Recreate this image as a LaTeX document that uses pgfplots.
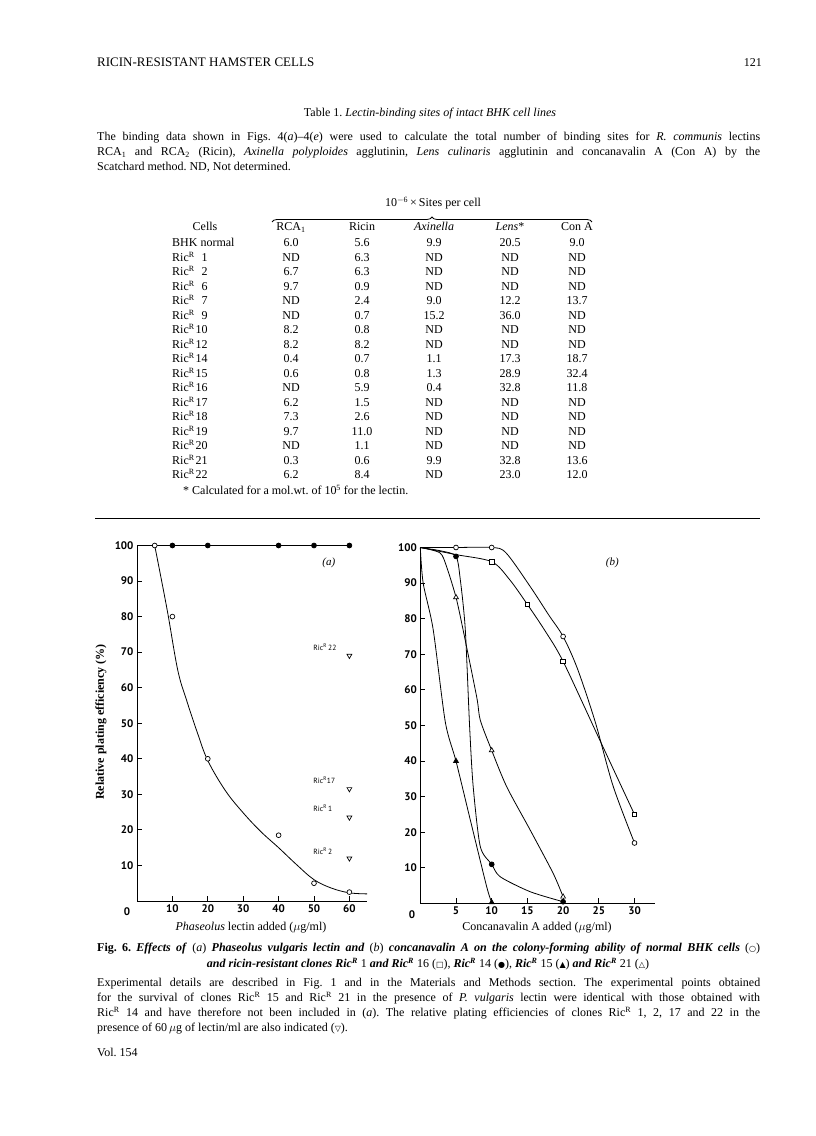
\documentclass[border=0pt]{standalone}
\usepackage{fontspec}
\setmainfont{Liberation Serif}
\newfontfamily\tickfont{PT Sans}
\newfontfamily\symfont{DejaVu Sans}
\usepackage{pgfplots}
\pgfplotsset{compat=1.18}
\usetikzlibrary{decorations.pathreplacing}
\frenchspacing
\newcommand\ric[1]{Ric\textsuperscript{R}\makebox[13pt][r]{#1}}
\newcommand\R{Ric\textsuperscript{R}}
\newcommand\sym[1]{{\symfont\fontsize{8}{8}\selectfont #1}}
\pgfplotsset{pan/.style={scale only axis, axis x line*=bottom, axis y line*=left,
  axis line style={-, line width=0.9pt}, ymin=0, ymax=100, ytick={10,20,...,100},
  tick align=inside, major tick length=5pt, tick style={black, line width=0.8pt},
  ticklabel style={font=\tickfont\bfseries\fontsize{11}{11}\selectfont},
  /pgf/number format/assume math mode=true, clip=false, height=355.5pt,
  every axis plot/.append style={black, line width=0.8pt}},
  oc/.style={only marks, mark=*, mark size=2.4pt, mark options={fill=white, draw=black, line width=0.7pt}},
  fc/.style={only marks, mark=*, mark size=2.4pt, mark options={fill=black}}}
\tikzset{ric/.style={font=\tickfont\fontsize{7.5}{8}\selectfont, anchor=west, inner sep=0pt}}
\begin{document}
\begin{tikzpicture}
\fill[white] (0pt,0pt) rectangle (816pt,1136pt);
\useasboundingbox (0pt,0pt) rectangle (816pt,1136pt);
% ---------- panel (a) ----------
\begin{axis}[pan, at={(137pt,235pt)}, anchor=south west, width=230.1pt,
  xmin=0, xmax=65, xtick={10,20,...,60}]
\addplot[no marks, line width=0.9pt] coordinates {(0,100)(60,100)};
\addplot[fc] coordinates {(10,100)(20,100)(40,100)(50,100)(60,100)};
\addplot[no marks, smooth, tension=0.6] coordinates {(5,100)(8.5,82)(11.5,65)(14,56.5)(17,47.5)(20,39.5)(25,31)(30,24.8)(35,19.5)(40,15)(45,10.3)(50,6)(55,3.6)(60,2.3)(65,2)};
\addplot[oc] coordinates {(5,100)(10,80)(20,40)(40,18.5)(50,5)(60,2.5)};
\addplot[only marks, mark=triangle, mark size=2.8pt, mark options={rotate=180, line width=0.7pt}] coordinates {(60,69)(60,31.5)(60,23.5)(60,12)};
\node[ric] at (axis cs:49.8,71.5) {\R\,22};
\node[ric] at (axis cs:49.8,34) {\R 17};
\node[ric] at (axis cs:49.8,26) {\R\,1};
\node[ric] at (axis cs:49.8,14) {\R\,2};
\node[font=\itshape\fontsize{11}{11}\selectfont] at (axis cs:54.2,95.2) {(a)};
\end{axis}
% ---------- panel (b) ----------
\begin{axis}[pan, at={(420.3pt,232.5pt)}, anchor=south west, width=234.2pt, height=356pt,
  xmin=0, xmax=32.8, xtick={5,10,...,30}]
% normal BHK
\addplot[no marks, smooth, tension=0.5] coordinates {(0,100)(5,100)(10,100)(12,98.5)(15.4,89)(18,81)(20,75)(22,66)(24.5,51)(27,33)(30,17)};
% RicR 1 and 16
\addplot[no marks, smooth, tension=0.5] coordinates {(0,100)(5,98)(10,96)(12.5,91)(15,84)(17.5,76.5)(20,68)(25,46.5)(30,25)};
% RicR 14
\addplot[no marks, smooth, tension=0.45] coordinates {(0,100)(3,99)(5,97.5)(5.6,91)(6.3,77)(6.9,50)(7.4,33)(8.4,16)(10,11)(11.2,7.5)(15.4,3.3)(20,0.5)};
% RicR 15
\addplot[no marks, smooth, tension=0.45] coordinates {(0,100)(0.4,90)(1.8,77)(3.5,51)(5,40)(7,23.5)(9.3,4.7)(10,0.3)};
% RicR 21
\addplot[no marks, smooth, tension=0.45] coordinates {(0,100)(2.75,98.5)(3.7,94.5)(5,86)(6,76.8)(7.9,58)(8.4,51.5)(10,43)(12.1,32.8)(15.4,20.6)(18.6,8.5)(20,1.9)};
\addplot[oc] coordinates {(5,100)(10,100)(20,75)(30,17)};
\addplot[only marks, mark=square*, mark size=2.3pt, mark options={fill=white, draw=black, line width=0.7pt}] coordinates {(10,96)(15,84)(20,68)(30,25)};
\addplot[fc] coordinates {(5,97.5)(10,11)(20,0.5)};
\addplot[only marks, mark=triangle*, mark size=2.8pt, mark options={fill=black}] coordinates {(5,40)(10,0.3)};
\addplot[only marks, mark=triangle*, mark size=2.8pt, mark options={fill=white, draw=black, line width=0.7pt}] coordinates {(5,86)(10,43)(20,1.9)};
\node[font=\itshape\fontsize{11}{11}\selectfont] at (axis cs:26.9,95.6) {(b)};
\end{axis}
\begin{scope}[x=1pt,y=1pt]
% ---------- header ----------
\node[anchor=base west,inner sep=0] at (97,1069) {\fontsize{13}{15}\selectfont RICIN-RESISTANT HAMSTER CELLS};
\node[anchor=base east,inner sep=0] at (762,1069) {\fontsize{12}{14}\selectfont 121};
\node[anchor=base,inner sep=0] at (430,1019) {\fontsize{12}{14}\selectfont Table 1. \textit{Lectin-binding sites of intact BHK cell lines}};
\begin{scope}[every node/.style={anchor=base west, inner sep=0, font=\fontsize{12}{14}\selectfont}]
\node at (97,995) {\makebox[663pt][s]{The binding data shown in Figs. 4(\textit{a})--4(\textit{e}) were used to calculate the total number of binding sites for \textit{R. communis} lectins}};
\node at (97,980) {\makebox[663pt][s]{RCA\textsubscript{1} and RCA\textsubscript{2} (Ricin), \textit{Axinella polyploides} agglutinin, \textit{Lens culinaris} agglutinin and concanavalin A (Con A) by the}};
\node at (97,965) {Scatchard method. ND, Not determined.};
\end{scope}
% ---------- table ----------
\node[anchor=base,inner sep=0] at (433,929) {\fontsize{12}{14}\selectfont 10\textsuperscript{$-$6}\,×\,Sites per cell};
\draw[line width=0.8pt, decorate, decoration={brace, amplitude=5pt}] (272,914) -- (592,914);
\begin{scope}[every node/.style={anchor=base, inner sep=0, font=\fontsize{12}{14}\selectfont}]
\node at (205,905) {Cells};
\node at (291,905) {RCA\textsubscript{1}};
\node at (362,905) {Ricin};
\node at (434,905) {\textit{Axinella}};
\node at (510,905) {\textit{Lens}*};
\node at (577,905) {Con A};
\foreach \lab/\va/\vb/\vc/\vd/\ve [count=\i from 0] in {
 {BHK normal}/6.0/5.6/9.9/20.5/9.0,
 {\ric{1}}/ND/6.3/ND/ND/ND,
 {\ric{2}}/6.7/6.3/ND/ND/ND,
 {\ric{6}}/9.7/0.9/ND/ND/ND,
 {\ric{7}}/ND/2.4/9.0/12.2/13.7,
 {\ric{9}}/ND/0.7/15.2/36.0/ND,
 {\ric{10}}/8.2/0.8/ND/ND/ND,
 {\ric{12}}/8.2/8.2/ND/ND/ND,
 {\ric{14}}/0.4/0.7/1.1/17.3/18.7,
 {\ric{15}}/0.6/0.8/1.3/28.9/32.4,
 {\ric{16}}/ND/5.9/0.4/32.8/11.8,
 {\ric{17}}/6.2/1.5/ND/ND/ND,
 {\ric{18}}/7.3/2.6/ND/ND/ND,
 {\ric{19}}/9.7/11.0/ND/ND/ND,
 {\ric{20}}/ND/1.1/ND/ND/ND,
 {\ric{21}}/0.3/0.6/9.9/32.8/13.6,
 {\ric{22}}/6.2/8.4/ND/23.0/12.0}
{
 \pgfmathsetmacro\yy{889-14.5*\i}
 \node[anchor=base west] at (172,\yy) {\lab};
 \node at (291,\yy) {\va};
 \node at (362,\yy) {\vb};
 \node at (434,\yy) {\vc};
 \node at (510,\yy) {\vd};
 \node at (577,\yy) {\ve};
}
\node[anchor=base west] at (183,641) {* Calculated for a mol.wt. of 10\textsuperscript{5} for the lectin.};
\end{scope}
\draw[line width=0.8pt] (95,618) -- (760,618);
% ---------- axis extras ----------
\node[font=\tickfont\bfseries\fontsize{11}{11}\selectfont] at (127,224) {0};
\node[font=\bfseries\fontsize{12}{12}\selectfont, rotate=90] at (101,414) {Relative plating efficiency (\%)};
\node[font=\fontsize{12}{12}\selectfont] at (251,208) {\textit{Phaseolus} lectin added ($\mu$g/ml)};
\node[font=\tickfont\bfseries\fontsize{11}{11}\selectfont] at (412,221) {0};
\node[font=\fontsize{12}{12}\selectfont] at (537,208) {Concanavalin A added ($\mu$g/ml)};
% ---------- caption ----------
\begin{scope}[every node/.style={anchor=base west, inner sep=0, font=\fontsize{12}{14}\selectfont}]
\node at (97,184) {\makebox[663pt][s]{\textbf{Fig. 6.} \textbf{\textit{Effects of}} (\textit{a}) \textbf{\textit{Phaseolus vulgaris lectin and}} (\textit{b}) \textbf{\textit{concanavalin A on the colony-forming ability of normal BHK cells}} (\sym{○})}};
\node[anchor=base] at (428,168) {\textbf{\textit{and ricin-resistant clones Ric\textsuperscript{R}}} 1 \textbf{\textit{and Ric\textsuperscript{R}}} 16 (\sym{□}), \textbf{\textit{Ric\textsuperscript{R}}} 14 (\sym{●}), \textbf{\textit{Ric\textsuperscript{R}}} 15 (\sym{▲}) \textbf{\textit{and Ric\textsuperscript{R}}} 21 (\sym{△})};
\node at (97,149) {\makebox[663pt][s]{Experimental details are described in Fig. 1 and in the Materials and Methods section. The experimental points obtained}};
\node at (97,134) {\makebox[663pt][s]{for the survival of clones Ric\textsuperscript{R} 15 and Ric\textsuperscript{R} 21 in the presence of \textit{P. vulgaris} lectin were identical with those obtained with}};
\node at (97,119) {\makebox[663pt][s]{Ric\textsuperscript{R} 14 and have therefore not been included in (\textit{a}). The relative plating efficiencies of clones Ric\textsuperscript{R} 1, 2, 17 and 22 in the}};
\node at (97,104) {presence of 60\,$\mu$g of lectin/ml are also indicated (\sym{▽}).};
\node at (97,79) {Vol. 154};
\end{scope}
\end{scope}
\end{tikzpicture}
\end{document}
